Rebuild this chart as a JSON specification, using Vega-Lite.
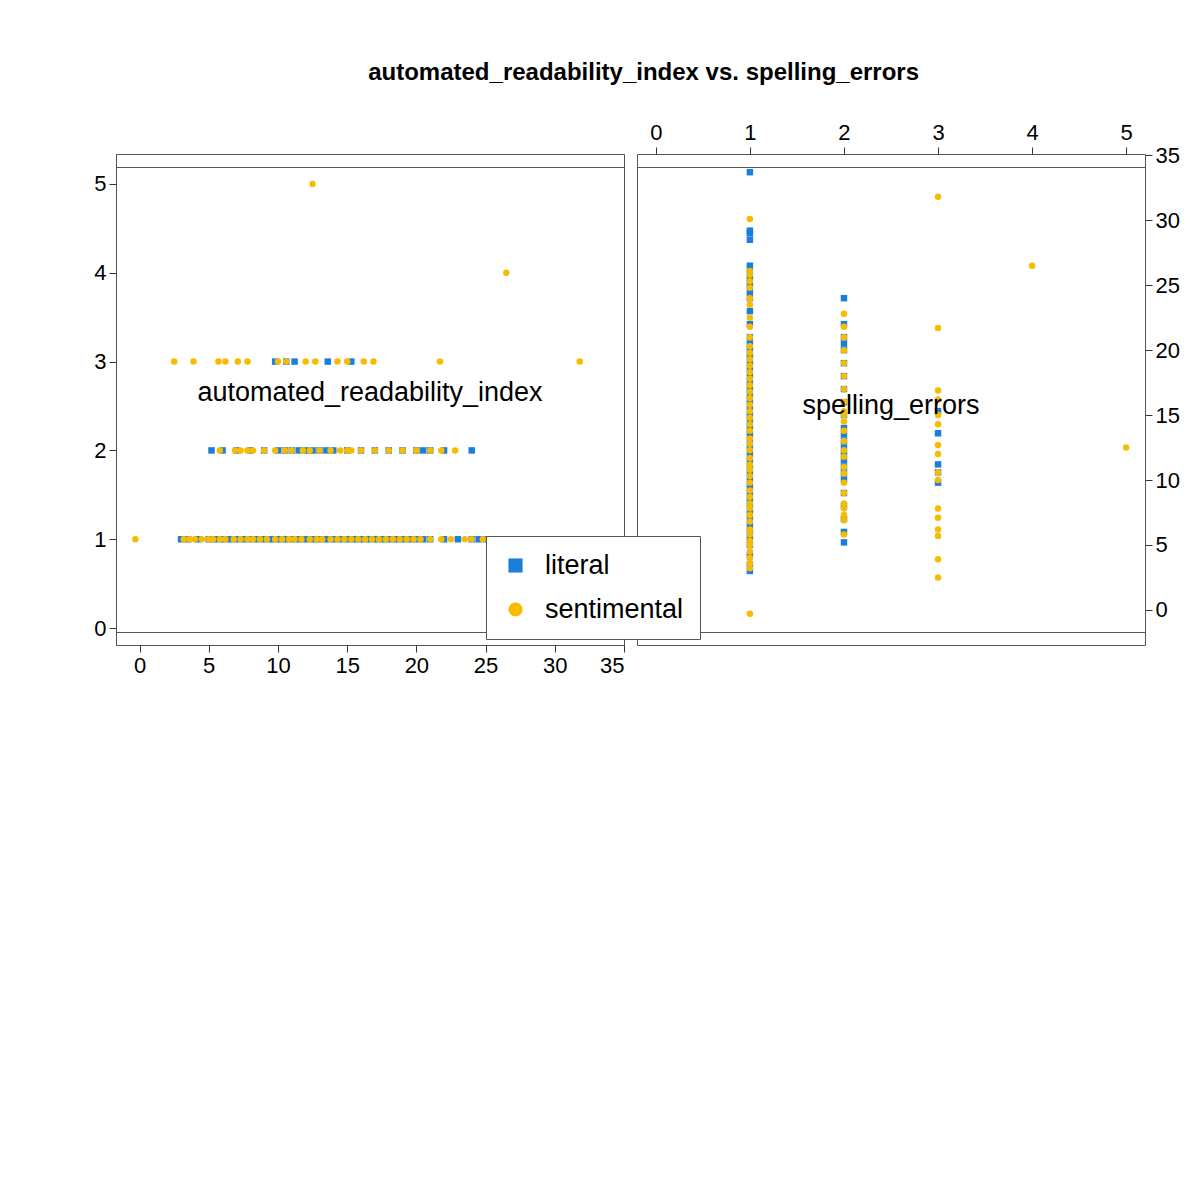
{
  "$schema": "https://vega.github.io/schema/vega-lite/v6.json",
  "autosize": {"type": "pad"},
  "padding": {"left": 93, "top": 60, "right": 5, "bottom": 5},
  "background": "white",
  "title": {"text": "automated_readability_index vs. spelling_errors", "fontSize": 24, "font": "Liberation Sans", "fontWeight": "bold", "offset": 36, "anchor": "middle", "dx": 7},
  "config": {
    "font": "Liberation Sans",
    "view": {"stroke": "#555555", "strokeWidth": 1},
    "axis": {"grid": false, "labelFontSize": 22, "labelColor": "black", "tickColor": "#333", "tickSize": 7, "domain": false, "title": null, "labelFont": "Liberation Sans", "labelPadding": 3},
    "legend": {"orient": "none", "legendX": 370, "legendY": 382, "title": null, "labelFontSize": 27, "symbolSize": 200, "strokeColor": "#555555", "fillColor": "white", "padding": 16, "rowPadding": 16, "labelOffset": 16, "symbolStrokeWidth": 0}
  },
  "datasets": {
    "pts": [
      {"ari": 3.0, "err": 1, "group": "literal"}, {"ari": 3.5, "err": 1, "group": "literal"}, {"ari": 4.2, "err": 1, "group": "literal"}, {"ari": 5, "err": 1, "group": "literal"}, {"ari": 5.5, "err": 1, "group": "literal"}, {"ari": 6, "err": 1, "group": "literal"}, {"ari": 6.5, "err": 1, "group": "literal"}, {"ari": 7, "err": 1, "group": "literal"}, {"ari": 7.5, "err": 1, "group": "literal"}, {"ari": 8, "err": 1, "group": "literal"}, {"ari": 8.5, "err": 1, "group": "literal"}, {"ari": 9, "err": 1, "group": "literal"}, {"ari": 9.5, "err": 1, "group": "literal"}, {"ari": 10, "err": 1, "group": "literal"}, {"ari": 10.5, "err": 1, "group": "literal"}, {"ari": 11, "err": 1, "group": "literal"}, {"ari": 11.5, "err": 1, "group": "literal"}, {"ari": 12, "err": 1, "group": "literal"}, {"ari": 12.5, "err": 1, "group": "literal"}, {"ari": 13, "err": 1, "group": "literal"}, {"ari": 13.5, "err": 1, "group": "literal"}, {"ari": 14, "err": 1, "group": "literal"}, {"ari": 14.5, "err": 1, "group": "literal"}, {"ari": 15, "err": 1, "group": "literal"}, {"ari": 15.5, "err": 1, "group": "literal"}, {"ari": 16, "err": 1, "group": "literal"}, {"ari": 16.5, "err": 1, "group": "literal"}, {"ari": 17, "err": 1, "group": "literal"}, {"ari": 17.5, "err": 1, "group": "literal"}, {"ari": 18, "err": 1, "group": "literal"}, {"ari": 18.5, "err": 1, "group": "literal"}, {"ari": 19, "err": 1, "group": "literal"}, {"ari": 19.5, "err": 1, "group": "literal"}, {"ari": 20, "err": 1, "group": "literal"}, {"ari": 20.5, "err": 1, "group": "literal"}, {"ari": 21, "err": 1, "group": "literal"}, {"ari": 22, "err": 1, "group": "literal"}, {"ari": 23, "err": 1, "group": "literal"}, {"ari": 24, "err": 1, "group": "literal"}, {"ari": 24.5, "err": 1, "group": "literal"}, {"ari": 25, "err": 1, "group": "literal"}, {"ari": 25.5, "err": 1, "group": "literal"}, {"ari": 26, "err": 1, "group": "literal"}, {"ari": 26.5, "err": 1, "group": "literal"}, {"ari": 28.5, "err": 1, "group": "literal"}, {"ari": 29, "err": 1, "group": "literal"}, {"ari": 29.2, "err": 1, "group": "literal"}, {"ari": 33.7, "err": 1, "group": "literal"},
      {"ari": 5.2, "err": 2, "group": "literal"}, {"ari": 6, "err": 2, "group": "literal"}, {"ari": 7, "err": 2, "group": "literal"}, {"ari": 8, "err": 2, "group": "literal"}, {"ari": 9, "err": 2, "group": "literal"}, {"ari": 10, "err": 2, "group": "literal"}, {"ari": 10.5, "err": 2, "group": "literal"}, {"ari": 11, "err": 2, "group": "literal"}, {"ari": 11.5, "err": 2, "group": "literal"}, {"ari": 12, "err": 2, "group": "literal"}, {"ari": 12.5, "err": 2, "group": "literal"}, {"ari": 13, "err": 2, "group": "literal"}, {"ari": 13.5, "err": 2, "group": "literal"}, {"ari": 14, "err": 2, "group": "literal"}, {"ari": 15, "err": 2, "group": "literal"}, {"ari": 16, "err": 2, "group": "literal"}, {"ari": 17, "err": 2, "group": "literal"}, {"ari": 18, "err": 2, "group": "literal"}, {"ari": 19, "err": 2, "group": "literal"}, {"ari": 20, "err": 2, "group": "literal"}, {"ari": 20.5, "err": 2, "group": "literal"}, {"ari": 21, "err": 2, "group": "literal"}, {"ari": 22, "err": 2, "group": "literal"}, {"ari": 24, "err": 2, "group": "literal"},
      {"ari": 9.8, "err": 3, "group": "literal"}, {"ari": 10.6, "err": 3, "group": "literal"}, {"ari": 11.2, "err": 3, "group": "literal"}, {"ari": 13.6, "err": 3, "group": "literal"}, {"ari": 15.3, "err": 3, "group": "literal"},
      {"ari": -0.3, "err": 1, "group": "sentimental"}, {"ari": 3.2, "err": 1, "group": "sentimental"}, {"ari": 3.6, "err": 1, "group": "sentimental"}, {"ari": 4, "err": 1, "group": "sentimental"}, {"ari": 4.5, "err": 1, "group": "sentimental"}, {"ari": 5, "err": 1, "group": "sentimental"}, {"ari": 5.3, "err": 1, "group": "sentimental"}, {"ari": 5.8, "err": 1, "group": "sentimental"}, {"ari": 6.2, "err": 1, "group": "sentimental"}, {"ari": 6.8, "err": 1, "group": "sentimental"}, {"ari": 7.3, "err": 1, "group": "sentimental"}, {"ari": 7.8, "err": 1, "group": "sentimental"}, {"ari": 8.2, "err": 1, "group": "sentimental"}, {"ari": 8.7, "err": 1, "group": "sentimental"}, {"ari": 9.2, "err": 1, "group": "sentimental"}, {"ari": 9.8, "err": 1, "group": "sentimental"}, {"ari": 10.3, "err": 1, "group": "sentimental"}, {"ari": 10.8, "err": 1, "group": "sentimental"}, {"ari": 11.2, "err": 1, "group": "sentimental"}, {"ari": 11.7, "err": 1, "group": "sentimental"}, {"ari": 12.3, "err": 1, "group": "sentimental"}, {"ari": 12.8, "err": 1, "group": "sentimental"}, {"ari": 13.2, "err": 1, "group": "sentimental"}, {"ari": 13.8, "err": 1, "group": "sentimental"}, {"ari": 14.3, "err": 1, "group": "sentimental"}, {"ari": 14.8, "err": 1, "group": "sentimental"}, {"ari": 15.3, "err": 1, "group": "sentimental"}, {"ari": 15.8, "err": 1, "group": "sentimental"}, {"ari": 16.3, "err": 1, "group": "sentimental"}, {"ari": 16.8, "err": 1, "group": "sentimental"}, {"ari": 17.3, "err": 1, "group": "sentimental"}, {"ari": 17.8, "err": 1, "group": "sentimental"}, {"ari": 18.3, "err": 1, "group": "sentimental"}, {"ari": 18.8, "err": 1, "group": "sentimental"}, {"ari": 19.3, "err": 1, "group": "sentimental"}, {"ari": 19.8, "err": 1, "group": "sentimental"}, {"ari": 20.3, "err": 1, "group": "sentimental"}, {"ari": 21, "err": 1, "group": "sentimental"}, {"ari": 21.8, "err": 1, "group": "sentimental"}, {"ari": 22.5, "err": 1, "group": "sentimental"}, {"ari": 23.5, "err": 1, "group": "sentimental"}, {"ari": 24, "err": 1, "group": "sentimental"}, {"ari": 24.8, "err": 1, "group": "sentimental"}, {"ari": 25.3, "err": 1, "group": "sentimental"}, {"ari": 25.8, "err": 1, "group": "sentimental"}, {"ari": 26.1, "err": 1, "group": "sentimental"}, {"ari": 30.1, "err": 1, "group": "sentimental"},
      {"ari": 5.8, "err": 2, "group": "sentimental"}, {"ari": 6.9, "err": 2, "group": "sentimental"}, {"ari": 7.3, "err": 2, "group": "sentimental"}, {"ari": 7.8, "err": 2, "group": "sentimental"}, {"ari": 8.2, "err": 2, "group": "sentimental"}, {"ari": 9, "err": 2, "group": "sentimental"}, {"ari": 9.8, "err": 2, "group": "sentimental"}, {"ari": 10.5, "err": 2, "group": "sentimental"}, {"ari": 11, "err": 2, "group": "sentimental"}, {"ari": 11.8, "err": 2, "group": "sentimental"}, {"ari": 12.3, "err": 2, "group": "sentimental"}, {"ari": 13, "err": 2, "group": "sentimental"}, {"ari": 13.8, "err": 2, "group": "sentimental"}, {"ari": 14.5, "err": 2, "group": "sentimental"}, {"ari": 15, "err": 2, "group": "sentimental"}, {"ari": 15.3, "err": 2, "group": "sentimental"}, {"ari": 16, "err": 2, "group": "sentimental"}, {"ari": 17, "err": 2, "group": "sentimental"}, {"ari": 18, "err": 2, "group": "sentimental"}, {"ari": 19, "err": 2, "group": "sentimental"}, {"ari": 20, "err": 2, "group": "sentimental"}, {"ari": 21, "err": 2, "group": "sentimental"}, {"ari": 21.8, "err": 2, "group": "sentimental"}, {"ari": 22.8, "err": 2, "group": "sentimental"},
      {"ari": 2.5, "err": 3, "group": "sentimental"}, {"ari": 3.9, "err": 3, "group": "sentimental"}, {"ari": 5.7, "err": 3, "group": "sentimental"}, {"ari": 6.2, "err": 3, "group": "sentimental"}, {"ari": 7.1, "err": 3, "group": "sentimental"}, {"ari": 7.8, "err": 3, "group": "sentimental"}, {"ari": 10, "err": 3, "group": "sentimental"}, {"ari": 10.6, "err": 3, "group": "sentimental"}, {"ari": 12, "err": 3, "group": "sentimental"}, {"ari": 12.7, "err": 3, "group": "sentimental"}, {"ari": 14.3, "err": 3, "group": "sentimental"}, {"ari": 15, "err": 3, "group": "sentimental"}, {"ari": 16.2, "err": 3, "group": "sentimental"}, {"ari": 16.9, "err": 3, "group": "sentimental"}, {"ari": 21.7, "err": 3, "group": "sentimental"}, {"ari": 31.8, "err": 3, "group": "sentimental"},
      {"ari": 26.5, "err": 4, "group": "sentimental"}, {"ari": 12.5, "err": 5, "group": "sentimental"}
    ],
    "labels": [{"x": 0.5, "y": 0.5}]
  },
  "bounds": "flush",
  "spacing": 13,
  "vconcat": [
    {
      "bounds": "flush",
      "spacing": 13,
      "hconcat": [
        {
          "width": 508, "height": 478,
          "data": {"name": "labels"},
          "mark": {"type": "text", "text": "automated_readability_index", "fontSize": 27, "font": "Liberation Sans", "color": "black"},
          "encoding": {
            "x": {"field": "x", "type": "quantitative", "scale": {"domain": [0, 1]}, "axis": null},
            "y": {"field": "y", "type": "quantitative", "scale": {"domain": [0, 1]}, "axis": null}
          }
        },
        {
          "width": 508, "height": 478,
          "data": {"name": "pts"},
          "mark": {"type": "point", "filled": true, "opacity": 1},
          "encoding": {
            "x": {"field": "err", "type": "quantitative", "scale": {"domain": [-0.2, 5.2], "nice": false, "zero": false}, "axis": {"orient": "top", "values": [0, 1, 2, 3, 4, 5]}},
            "y": {"field": "ari", "type": "quantitative", "scale": {"domain": [-1.7, 35.1], "nice": false, "zero": false}, "axis": {"orient": "right", "values": [0, 5, 10, 15, 20, 25, 30, 35]}},
            "color": {"field": "group", "type": "nominal", "scale": {"domain": ["literal", "sentimental"], "range": ["#1a7fdb", "#f7bc00"]}},
            "shape": {"field": "group", "type": "nominal", "scale": {"domain": ["literal", "sentimental"], "range": ["square", "circle"]}},
            "size": {"value": 42}
          }
        }
      ]
    },
    {
      "bounds": "flush",
      "spacing": 13,
      "hconcat": [
        {
          "width": 508, "height": 478,
          "data": {"name": "pts"},
          "mark": {"type": "point", "filled": true, "opacity": 1},
          "encoding": {
            "x": {"field": "ari", "type": "quantitative", "scale": {"domain": [-1.7, 35], "nice": false, "zero": false}, "axis": {"orient": "bottom", "values": [0, 5, 10, 15, 20, 25, 30, 35]}},
            "y": {"field": "err", "type": "quantitative", "scale": {"domain": [-0.19, 5.19], "nice": false, "zero": false}, "axis": {"orient": "left", "values": [0, 1, 2, 3, 4, 5]}},
            "color": {"field": "group", "type": "nominal", "scale": {"domain": ["literal", "sentimental"], "range": ["#1a7fdb", "#f7bc00"]}},
            "shape": {"field": "group", "type": "nominal", "scale": {"domain": ["literal", "sentimental"], "range": ["square", "circle"]}},
            "size": {"value": 42}
          }
        },
        {
          "width": 508, "height": 478,
          "data": {"name": "labels"},
          "mark": {"type": "text", "text": "spelling_errors", "fontSize": 27, "font": "Liberation Sans", "color": "black"},
          "encoding": {
            "x": {"field": "x", "type": "quantitative", "scale": {"domain": [0, 1]}, "axis": null},
            "y": {"field": "y", "type": "quantitative", "scale": {"domain": [0, 1]}, "axis": null}
          }
        }
      ]
    }
  ]
}
